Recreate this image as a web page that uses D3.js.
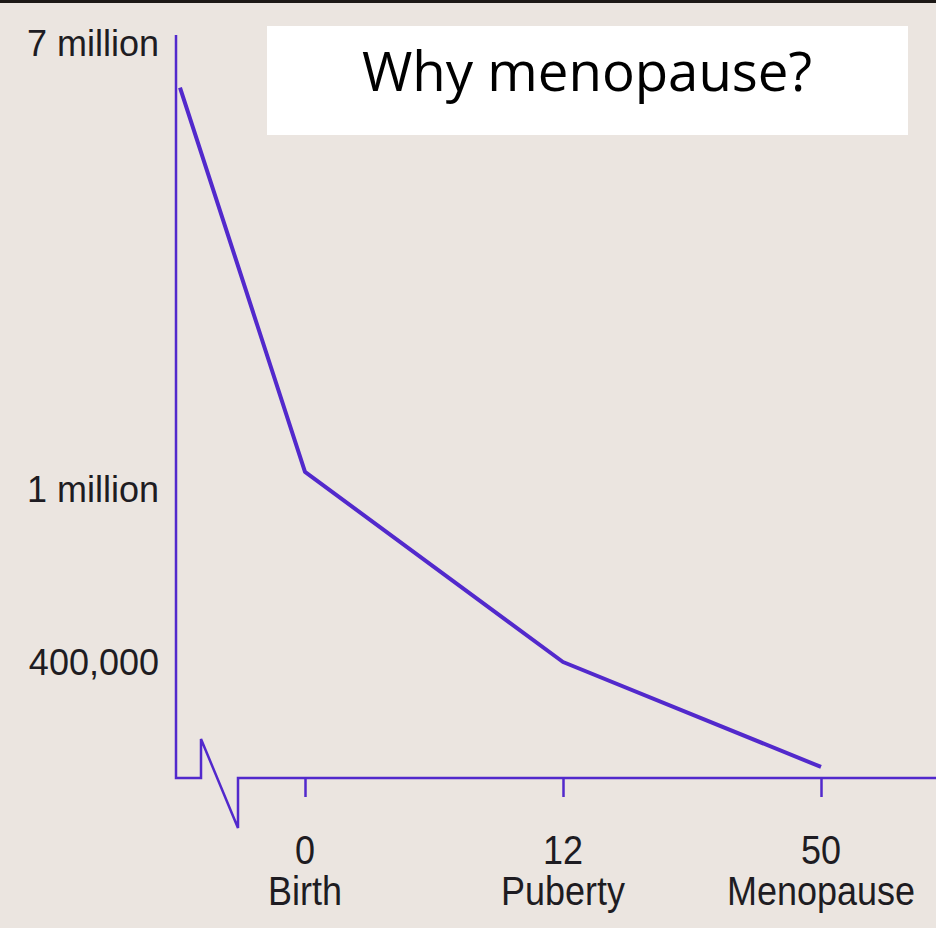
<!DOCTYPE html>
<html>
<head>
<meta charset="utf-8">
<script src="https://cdn.jsdelivr.net/npm/d3@7"></script>
<style>
    html, body { margin: 0; padding: 0; background: #ebe5e0; }
    svg { display: block; }
</style>
</head>
<body>
<div id="root"></div>
<script>
const w = 936;
const h = 928;

// follicle count, ages in years (fetus ~ -0.4)
const ages = [-0.4, 0, 12, 50];
const counts = [6400000, 1230000, 400000, 35000];

// y-axis labels (the figure is not to scale)
const yTicks = [7000000, 1000000, 400000];
const yTickLabels = ["7 million", "1 million", "400,000"];

// x-axis labels
const xTicks = [0, 12, 50];
const xTickNumbers = ["0", "12", "50"];
const xTickNames = ["Birth", "Puberty", "Menopause"];

const title = "Why menopause?";

const purple = "#5229cc";
const axisX = 176;
const baseY = 778;

// piecewise scales, because the original drawing is squeezed
const xScale = d3.scaleLinear()
    .domain([-0.4, 0, 12, 50])
    .range([180, 305, 563, 821]);
const yScale = d3.scaleLinear()
    .domain([0, 400000, 1000000, 7000000])
    .range([777, 662, 489, 43]);

const svg = d3.select("#root")
    .append("svg")
    .attr("width", w)
    .attr("height", h);

svg.append("rect")
    .attr("width", w).attr("height", h)
    .attr("fill", "#ebe5e0");
svg.append("rect")
    .attr("width", w).attr("height", 3)
    .attr("fill", "#1c1816");

// axes with the break in the x-axis
const breakPath = d3.path();
breakPath.moveTo(axisX, 35);
breakPath.lineTo(axisX, baseY);
breakPath.lineTo(201, baseY);
breakPath.lineTo(201, 739);
breakPath.lineTo(238, 828);
breakPath.lineTo(238, baseY);
breakPath.lineTo(w, baseY);
svg.append("path")
    .attr("d", breakPath.toString())
    .attr("fill", "none")
    .attr("stroke", purple)
    .attr("stroke-width", 2.5);

// x ticks
const xAxis = d3.axisBottom(xScale)
    .tickValues(xTicks)
    .tickSizeInner(19)
    .tickSizeOuter(0)
    .tickFormat("");
const gx = svg.append("g")
    .attr("id", "x-axis")
    .attr("transform", "translate(0," + baseY + ")")
    .call(xAxis);
gx.select(".domain").remove();
gx.selectAll(".tick line")
    .attr("stroke", purple)
    .attr("stroke-width", 2.5);

const labelFont = "'Liberation Sans', Arial, sans-serif";
const xLabels = svg.append("g").attr("font-family", labelFont)
    .attr("font-size", 36).attr("fill", "#1e1c22").attr("text-anchor", "middle");
xLabels.selectAll("text.num")
    .data(xTicks)
    .enter()
    .append("text")
    .attr("class", "num")
    .attr("transform", d => "translate(" + xScale(d) + ",864) scale(1,1.12)")
    .text((d, i) => xTickNumbers[i]);
xLabels.selectAll("text.name")
    .data(xTicks)
    .enter()
    .append("text")
    .attr("class", "name")
    .attr("transform", d => "translate(" + xScale(d) + ",905) scale(1,1.12)")
    .text((d, i) => xTickNames[i]);

// y labels
const yAxis = d3.axisLeft(yScale)
    .tickValues(yTicks)
    .tickSize(0)
    .tickPadding(17)
    .tickFormat((d, i) => yTickLabels[i]);
const gy = svg.append("g")
    .attr("id", "y-axis")
    .attr("transform", "translate(" + axisX + ",0)")
    .call(yAxis);
gy.select(".domain").remove();
gy.selectAll(".tick text")
    .attr("font-family", labelFont)
    .attr("font-size", 36)
    .attr("fill", "#1e1c22")
    .attr("dy", "0.36em");

// the decline line
const line = d3.line()
    .x((d, i) => xScale(ages[i]))
    .y(d => yScale(d));
svg.append("path")
    .datum(counts)
    .attr("d", line)
    .attr("fill", "none")
    .attr("stroke", purple)
    .attr("stroke-width", 4)
    .attr("stroke-linejoin", "round");

// title box
svg.append("rect")
    .attr("x", 267).attr("y", 26)
    .attr("width", 641).attr("height", 109)
    .attr("fill", "#ffffff");
svg.append("text")
    .attr("x", 587).attr("y", 91)
    .attr("text-anchor", "middle")
    .attr("font-family", "'Open Sans', sans-serif")
    .attr("font-size", 55)
    .attr("textLength", 450)
    .attr("lengthAdjust", "spacingAndGlyphs")
    .attr("fill", "#000")
    .text(title);
</script>
</body>
</html>
